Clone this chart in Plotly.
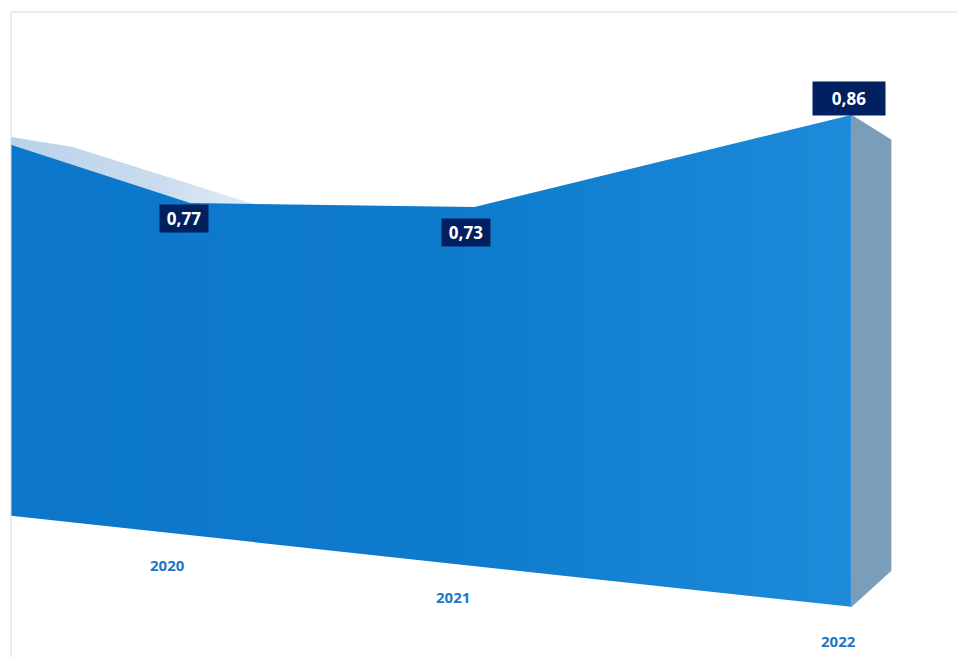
import plotly.graph_objects as go

# ---------------- data ----------------
years = ["2018", "2019", "2020", "2021", "2022"]
values = [1.13, 0.99, 0.77, 0.73, 0.86]   # 2018/2019 lie outside the visible (clipped) view

# ---------------- 3D perspective camera (fitted to the reference view) ----------------
INV_DEPTH0 = 0.0028883   # inverse depth of the first category on the front plane
INV_DEPTH_STEP = 0.000285
X_ORIGIN = -1837.0
X_GAIN = 4.70
HORIZON = 315.7
EYE_HEIGHT = 0.509
DEPTH_DX = 0.29004
DEPTH_DZ = 0.0002477


def project(idx, value, depth):
    """Project (category index, value, depth 0=front/1=back) to screen coordinates."""
    zf = INV_DEPTH0 - INV_DEPTH_STEP * idx
    z = zf + depth * DEPTH_DZ
    xw = X_ORIGIN * zf + X_GAIN + depth * DEPTH_DX
    return xw / z, HORIZON - (value - EYE_HEIGHT) / z


def signed_area(pts):
    s = 0.0
    for (x1, y1), (x2, y2) in zip(pts, pts[1:] + pts[:1]):
        s += x1 * y2 - x2 * y1
    return s


PAGE_OFFSET = 8          # default body margin of the html page
X_MIN, X_MAX = 11, 965
Y_TOP, Y_BOT = 12, 657

fig = go.Figure()
n = len(years)

# top surfaces (only the ones facing the camera)
for j in range(n - 1):
    pts = [project(j, values[j], 0), project(j + 1, values[j + 1], 0),
           project(j + 1, values[j + 1], 1), project(j, values[j], 1)]
    if signed_area(pts) < 0:
        fig.add_trace(go.Scatter(
            x=[p[0] for p in pts] + [pts[0][0]], y=[p[1] for p in pts] + [pts[0][1]],
            mode="lines", fill="toself", line=dict(width=0, color="rgba(0,0,0,0)"),
            fillgradient=dict(type="horizontal", start=0, stop=260,
                              colorscale=[[0, "#B7D1E9"], [0.6, "#C9DCEE"], [1, "#E3EDF6"]]),
            hoverinfo="skip", showlegend=False))

# front face
front = [project(i, values[i], 0) for i in range(n)]
front += [project(n - 1, 0, 0), project(0, 0, 0)]
fig.add_trace(go.Scatter(
    x=[p[0] for p in front] + [front[0][0]], y=[p[1] for p in front] + [front[0][1]],
    mode="lines", fill="toself", line=dict(width=0, color="rgba(0,0,0,0)"),
    fillgradient=dict(type="horizontal", start=11, stop=851,
                      colorscale=[[0, "#0C77CA"], [0.55, "#0F7BCD"], [1, "#1E8ADA"]]),
    hoverinfo="skip", showlegend=False))

# end (side) face at the last category
last = n - 1
side = [project(last, values[last], 0), project(last, values[last], 1),
        project(last, 0, 1), project(last, 0, 0)]
fig.add_trace(go.Scatter(
    x=[p[0] for p in side] + [side[0][0]], y=[p[1] for p in side] + [side[0][1]],
    mode="lines", fill="toself", fillcolor="#7A9DBA", line=dict(width=0.8, color="#7A9DBA"),
    hoverinfo="skip", showlegend=False))

# ---------------- labels ----------------
value_label_shift = {"2020": (-6, -15), "2021": (-8.5, -25), "2022": (-2.4, 16.7)}
value_label_box = {"2020": (48, 27), "2021": (48, 27), "2022": (72, 33)}
year_label_shift = {"2020": (-22.5, -30), "2021": (-22, -30.7), "2022": (-12.4, -34)}

for i, (yr, v) in enumerate(zip(years, values)):
    px, py = project(i, v, 0)
    if yr in value_label_shift and X_MIN <= px <= X_MAX:
        dx, dy = value_label_shift[yr]
        w, h = value_label_box[yr]
        fig.add_annotation(x=px, y=py, xshift=dx, yshift=dy, showarrow=False,
                           text=f"{v:.2f}".replace(".", ","), width=w, height=h,
                           bgcolor="#002060", borderpad=0,
                           font=dict(family="Open Sans", size=17, color="white", weight="bold"))
    bx, by = project(i, 0, 0)
    if yr in year_label_shift and X_MIN <= bx <= X_MAX:
        dx, dy = year_label_shift[yr]
        fig.add_annotation(x=bx, y=by, xshift=dx, yshift=dy, showarrow=False, text=yr,
                           font=dict(family="Open Sans", size=15, color="#1E76C6", weight="bold"))

# chart-area border (top and left edges)
fig.add_shape(type="line", xref="paper", yref="paper", x0=0, x1=1, y0=1, y1=1,
              line=dict(color="#D9D9D9", width=1))
fig.add_shape(type="line", xref="paper", yref="paper", x0=0, x1=0, y0=0, y1=1,
              line=dict(color="#D9D9D9", width=1))

fig.update_layout(
    width=965 - PAGE_OFFSET, height=657 - PAGE_OFFSET,
    margin=dict(l=X_MIN - PAGE_OFFSET, r=0, t=Y_TOP - PAGE_OFFSET, b=0, pad=0),
    paper_bgcolor="white", plot_bgcolor="white",
    xaxis=dict(range=[X_MIN, X_MAX], visible=False, fixedrange=True),
    yaxis=dict(range=[Y_BOT, Y_TOP], visible=False, fixedrange=True),
    showlegend=False,
)

fig.write_html("out.html")
